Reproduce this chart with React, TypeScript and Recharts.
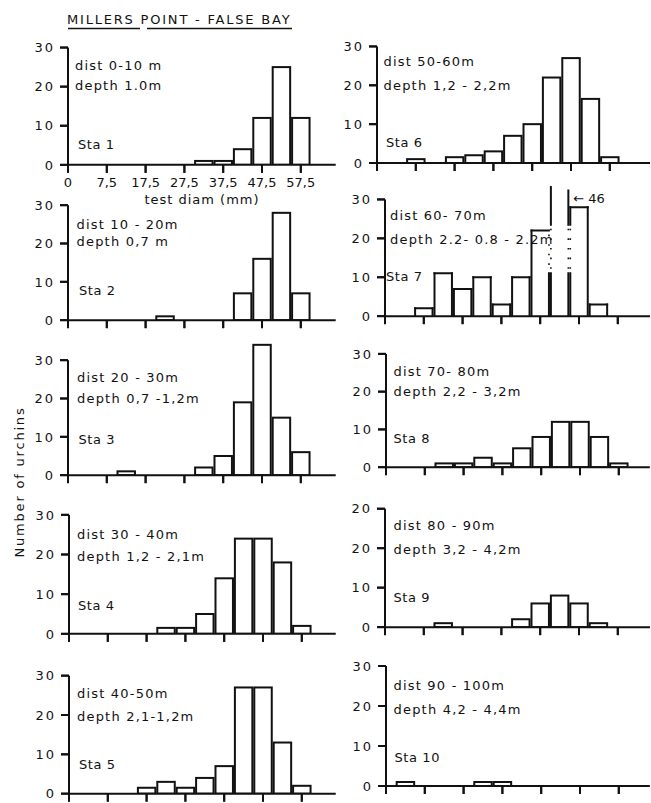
import React from 'react';
import { BarChart, Bar, XAxis, YAxis, ReferenceLine } from 'recharts';

// size classes, one bin = 5 mm, bin 0 sits on the y axis
const bins = [0, 1, 2, 3, 4, 5, 6, 7, 8, 9, 10, 11, 12, 13];
const xTickBins = [0, 2, 4, 6, 8, 10, 12];
const xTickLabels = ['0', '7,5', '17,5', '27,5', '37,5', '47,5', '57,5'];
const yTicks = [0, 10, 20, 30];
const sta9YLabels = ['0', '10', '20', '20'];

// number of urchins per size class
const sta1 = [0, 0, 0, 0, 0, 0, 0, 1, 1, 4, 12, 25, 12, 0];
const sta2 = [0, 0, 0, 0, 0, 1, 0, 0, 0, 7, 16, 28, 7, 0];
const sta3 = [0, 0, 0, 1, 0, 0, 0, 2, 5, 19, 34, 15, 6, 0];
const sta4 = [0, 0, 0, 0, 0, 1.5, 1.5, 5, 14, 24, 24, 18, 2, 0];
const sta5 = [0, 0, 0, 0, 1.5, 3, 1.5, 4, 7, 27, 27, 13, 2, 0];
const sta6 = [0, 0, 1, 0, 1.5, 2, 3, 7, 10, 22, 27, 16.5, 1.5, 0];
const sta7 = [0, 0, 2, 11, 7, 10, 3, 10, 22, 46, 28, 3, 0, 0];
const sta8 = [0, 0, 0, 1, 1, 2.5, 1, 5, 8, 12, 12, 8, 1, 0];
const sta9 = [0, 0, 0, 1, 0, 0, 0, 2, 6, 8, 6, 1, 0, 0];
const sta10 = [0, 1, 0, 0, 0, 1, 1, 0, 0, 0, 0, 0, 0, 0];
const stations = [sta1, sta2, sta3, sta4, sta5, sta6, sta7, sta8, sta9, sta10];

const staLabels = ['Sta 1', 'Sta 2', 'Sta 3', 'Sta 4', 'Sta 5', 'Sta 6', 'Sta 7', 'Sta 8', 'Sta 9', 'Sta 10'];
const distLabels = [
  'dist 0-10 m', 'dist 10 - 20m', 'dist 20 - 30m', 'dist 30 - 40m', 'dist 40-50m',
  'dist 50-60m', 'dist 60- 70m', 'dist 70- 80m', 'dist 80 - 90m', 'dist 90 - 100m',
];
const depthLabels = [
  'depth 1.0m', 'depth 0,7 m', 'depth 0,7 -1,2m', 'depth 1,2 - 2,1m', 'depth 2,1-1,2m',
  'depth 1,2 - 2,2m', 'depth 2.2- 0.8 - 2.2m', 'depth 2,2 - 3,2m', 'depth 3,2 - 4,2m', 'depth 4,2 - 4,4m',
];

// Sta 7: the 46 class runs off the scale, drawn open with a break
const sta7Break = { bin: 9, lo: 11, hi: 23.5, capLeft: 33.2, capRight: 32.3, label: '\u2190 46' };

const INK = '#111';
const FONT = '"DejaVu Sans", sans-serif';
const BIN_PX = 19.4;
const Y_MAX = 35;
const Y_W = 40;
const X_H = 28;
const M_TOP = 6;
const TICK = 8;
const TICK_GAP = 5;

// page placement of each small chart: y axis x, y of the 30 line, y of 0
const panels = [
  { ax: 68.3, y30: 47.7, y0: 165, xMax: 13.8, tx: 75, dist: 70, depth: 90, sx: 78, sy: 149 },
  { ax: 68.3, y30: 205, y0: 320, xMax: 13.8, tx: 76.5, dist: 228.5, depth: 245.5, sx: 79, sy: 295 },
  { ax: 68.3, y30: 360, y0: 475, xMax: 13.8, tx: 77, dist: 381.5, depth: 403, sx: 78.5, sy: 443.5 },
  { ax: 69.3, y30: 515, y0: 634, xMax: 13.75, tx: 77, dist: 538.5, depth: 561, sx: 78, sy: 609.5 },
  { ax: 69.3, y30: 676, y0: 794, xMax: 13.75, tx: 77, dist: 698, depth: 721, sx: 79, sy: 768.5 },
  { ax: 376.7, y30: 46.7, y0: 163.3, xMax: 14.1, tx: 383.5, dist: 66, depth: 89.5, sx: 386, sy: 146.5 },
  { ax: 384.5, y30: 199, y0: 315.7, xMax: 13.7, tx: 390, dist: 219.5, depth: 243.5, sx: 386, sy: 281 },
  { ax: 386, y30: 354, y0: 467.3, xMax: 13.6, tx: 393.5, dist: 376, depth: 396, sx: 393.5, sy: 442.5 },
  { ax: 384.5, y30: 508.3, y0: 626.7, xMax: 13.7, tx: 393.5, dist: 530, depth: 554, sx: 393.5, sy: 601.5 },
  { ax: 386, y30: 666, y0: 786, xMax: 13.6, tx: 393.5, dist: 690, depth: 714, sx: 394.5, sy: 761.5 },
];

const txt = { fontFamily: FONT, fontSize: 13, fill: INK };

function HistBar(props: any) {
  const { x, y, width, height, payload, brk } = props;
  const n = payload?.n;
  if (!n || !(height > 0)) return null;
  if (!brk) {
    return <rect x={x} y={y} width={width} height={height} fill="#fff" stroke={INK} strokeWidth={2} />;
  }
  const base = y + height;
  const pxu = height / n;
  const yHi = base - brk.hi * pxu;
  const yLo = base - brk.lo * pxu;
  const ln = (x1: number, y1: number, x2: number, y2: number, k: string, dotted = false) => (
    <line key={k} x1={x1} y1={y1} x2={x2} y2={y2} stroke={INK} strokeWidth={dotted ? 1.6 : 2}
      strokeDasharray={dotted ? '1.6 8' : undefined} strokeLinecap={dotted ? 'butt' : 'square'} />
  );
  const edge = (xx: number, top: number, broken: boolean, k: string) => {
    if (!broken || top >= yLo) return ln(xx, top, xx, base, k);
    const parts = [];
    if (top < yHi) parts.push(ln(xx, top, xx, yHi, k + 'a'));
    parts.push(ln(xx, Math.max(top, yHi) + 4, xx, yLo, k + 'b', true));
    parts.push(ln(xx, yLo, xx, base, k + 'c'));
    return <g key={k}>{parts}</g>;
  };
  if (payload.bin === brk.bin) {
    const tl = base - brk.capLeft * pxu;
    const tr = base - brk.capRight * pxu;
    return (
      <g>
        {edge(x, tl, true, 'l')}
        {edge(x + width, tr, true, 'r')}
        <text x={x + width + 5} y={tr + 12} {...txt}>{brk.label}</text>
      </g>
    );
  }
  return (
    <g>
      <rect x={x} y={y} width={width} height={height} fill="#fff" />
      {ln(x, y, x + width, y, 't')}
      {edge(x, y, payload.bin === brk.bin + 1, 'l')}
      {edge(x + width, y, payload.bin === brk.bin - 1, 'r')}
    </g>
  );
}

// tick marks drawn with the labels so they show on every panel
const XTick = (t: any, withLabel: boolean) => (
  <g>
    <line x1={t.x} x2={t.x} y1={t.y - TICK - TICK_GAP} y2={t.y - TICK_GAP} stroke={INK} strokeWidth={2} />
    {withLabel && (
      <text x={t.x} y={t.y} dy="0.72em" textAnchor="middle" {...txt}>
        {xTickLabels[xTickBins.indexOf(t.payload.value)]}
      </text>
    )}
  </g>
);

const YTick = (t: any, label: string) => (
  <g>
    <line x1={t.x + TICK_GAP} x2={t.x + TICK_GAP + TICK} y1={t.y} y2={t.y} stroke={INK} strokeWidth={2} />
    <text x={t.x} y={t.y} dy="0.36em" textAnchor="end" {...txt} style={{ letterSpacing: '2px' }}>
      {label}
    </text>
  </g>
);

function Panel({ i }: { i: number }) {
  const p = panels[i];
  const pxu = (p.y0 - p.y30) / 30;
  const plotH = Y_MAX * pxu;
  const plotW = p.xMax * BIN_PX;
  const data = bins.map((b, k) => ({ bin: b, n: stations[i][k] || null }));
  const yLabel = (v: number) => (i === 8 ? sta9YLabels[yTicks.indexOf(v)] : String(v));
  const brk = i === 6 ? sta7Break : null;
  return (
    <div style={{ position: 'absolute', left: p.ax - Y_W, top: p.y0 - plotH - M_TOP }}>
      <BarChart
        width={Y_W + plotW}
        height={M_TOP + plotH + X_H}
        data={data}
        margin={{ top: M_TOP, right: 0, bottom: 0, left: 0 }}
        barCategoryGap={0}
        barGap={0}
      >
        <XAxis
          type="number"
          dataKey="bin"
          domain={[0, p.xMax]}
          ticks={xTickBins}
          interval={0}
          height={X_H}
          tickSize={TICK}
          tickMargin={TICK_GAP}
          axisLine={{ stroke: INK, strokeWidth: 2 }}
          tickLine={{ stroke: INK, strokeWidth: 2 }}
          tick={(t: any) => XTick(t, i === 0)}
          allowDataOverflow
        />
        <YAxis
          type="number"
          domain={[0, Y_MAX]}
          ticks={yTicks}
          interval={0}
          width={Y_W}
          tickSize={TICK}
          tickMargin={TICK_GAP}
          axisLine={false}
          tickLine={{ stroke: INK, strokeWidth: 2 }}
          tick={(t: any) => YTick(t, yLabel(t.payload.value))}
          allowDataOverflow
        />
        <ReferenceLine segment={[{ x: 0, y: 0 }, { x: 0, y: 30 }]} stroke={INK} strokeWidth={2} />
        <Bar
          dataKey="n"
          isAnimationActive={false}
          barSize={BIN_PX}
          shape={(s: any) => <HistBar {...s} brk={brk} />}
        />
      </BarChart>
    </div>
  );
}

export default function App() {
  return (
    <div style={{ position: 'absolute', left: 0, top: 0, width: 651, height: 803, background: '#fff', overflow: 'hidden' }}>
      {panels.map((_, i) => <Panel key={i} i={i} />)}
      <svg width={651} height={803} style={{ position: 'absolute', left: 0, top: 0, pointerEvents: 'none' }}>
        <text x={67} y={23.5} {...txt} style={{ letterSpacing: '1.8px' }}>MILLERS POINT - FALSE  BAY</text>
        <line x1={68} y1={28.5} x2={140} y2={28.5} stroke={INK} strokeWidth={1.4} />
        <line x1={147} y1={28.5} x2={292} y2={28.5} stroke={INK} strokeWidth={1.4} />
        <text x={202} y={204} textAnchor="middle" {...txt} style={{ letterSpacing: '1px' }}>test diam (mm)</text>
        <text x={19} y={482} textAnchor="middle" dy="0.36em" transform="rotate(-90 19 482)" {...txt}
          style={{ letterSpacing: '1.8px' }}>Number of urchins</text>
        {panels.map((p, i) => (
          <g key={i}>
            <text x={p.tx} y={p.dist} {...txt} style={{ letterSpacing: '1.2px' }}>{distLabels[i]}</text>
            <text x={p.tx} y={p.depth} {...txt} style={{ letterSpacing: '1.2px' }}>{depthLabels[i]}</text>
            <text x={p.sx} y={p.sy} {...txt} style={{ letterSpacing: '0.6px' }}>{staLabels[i]}</text>
          </g>
        ))}
      </svg>
    </div>
  );
}
